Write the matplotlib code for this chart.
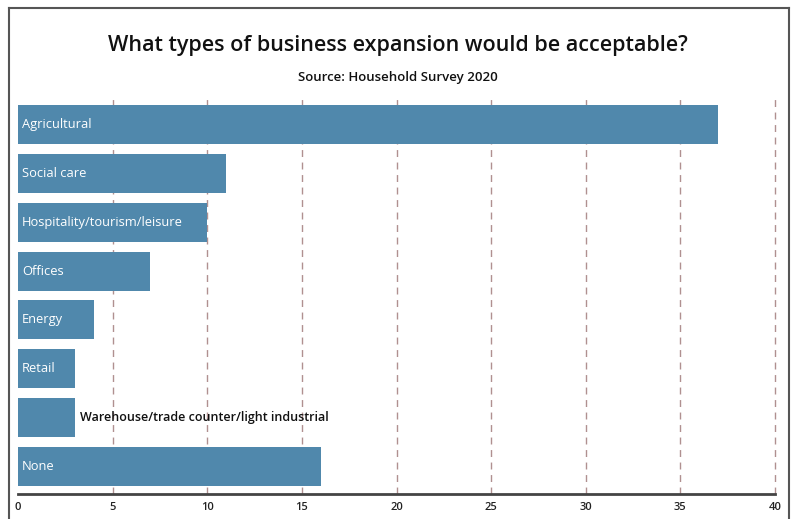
import matplotlib
matplotlib.use("Agg")
import matplotlib.pyplot as plt
from matplotlib.lines import Line2D

categories = ["Agricultural", "Social care", "Hospitality/tourism/leisure", "Offices",
              "Energy", "Retail", "Warehouse/trade counter/light industrial", "None"]
values = [37, 11, 10, 7, 4, 3, 3, 16]
xticks = [0, 5, 10, 15, 20, 25, 30, 35, 40]

title = "What types of business expansion would be acceptable?"
subtitle = "Source: Household Survey 2020"

plt.rcParams['font.family'] = ['Open Sans', 'DejaVu Sans']

fig = plt.figure(figsize=(7.96, 5.19), dpi=100)
ax = fig.add_axes([18/796, 1-494/519, (775-18)/796, (494-98)/519])

bar_color = "#5088ac"
pos = list(range(len(categories)))
ax.barh(pos, values, height=0.8, color=bar_color, zorder=2)

for i, (c, v) in enumerate(zip(categories, values)):
    if len(c) <= 3 * v:
        ax.text(0.2, i, c, color="white", va="center", ha="left", fontsize=9.3,
                fontweight="medium", zorder=3)
    else:
        ax.text(v + 0.25, i, c, color="#111111", va="center", ha="left", fontsize=9,
                fontweight="semibold", zorder=3)

ax.set_xlim(0, 40)
ax.set_ylim(7.57, -0.55)
ax.set_xticks(xticks)
ax.set_xticklabels([str(t) for t in xticks], fontsize=8, color="#222222", fontweight="semibold")
ax.set_yticks([])
for t in xticks[1:]:
    ax.axvline(t, color="#b09090", linestyle=(0, (5, 4)), linewidth=1.0, zorder=1, clip_on=False)
for s in ["top", "right", "left"]:
    ax.spines[s].set_visible(False)
ax.spines["bottom"].set_color("#444444")
ax.spines["bottom"].set_linewidth(2)
ax.spines["bottom"].set_zorder(4)
ax.tick_params(axis="x", length=0, pad=6)

fig.text(0.5, 1-45/519, title, ha="center", va="center", fontsize=15.5, fontweight="semibold", color="#111111")
fig.text(0.5, 1-77/519, subtitle, ha="center", va="center", fontsize=9.5, fontweight="semibold", color="#111111")

# outer frame
fc = "#555555"
fig.add_artist(Line2D([9/796, 9/796], [0, 1-8/519], transform=fig.transFigure, color=fc, linewidth=1.5))
fig.add_artist(Line2D([9/796, 789/796], [1-8/519, 1-8/519], transform=fig.transFigure, color=fc, linewidth=1.5))
fig.add_artist(Line2D([789/796, 789/796], [0, 1-8/519], transform=fig.transFigure, color=fc, linewidth=1.5))

fig.savefig("out.png", dpi=100)
